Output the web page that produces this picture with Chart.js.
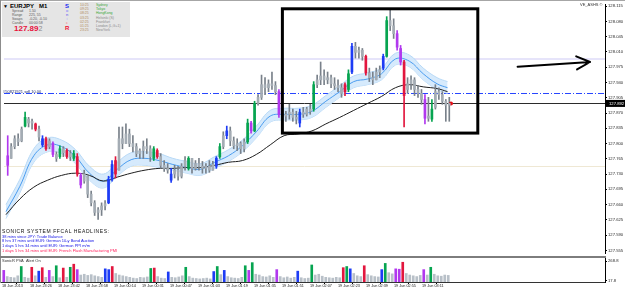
<!DOCTYPE html>
<html>
<head>
<meta charset="utf-8">
<title>EURJPY M1</title>
<script src="https://cdn.jsdelivr.net/npm/chart.js@4.4.1/dist/chart.umd.min.js"></script>
<style>
  html, body { margin: 0; padding: 0; background: #fff; }
  body { position: relative; width: 625px; height: 290px; overflow: hidden;
         font-family: "Liberation Sans", Arial, sans-serif; }
  .pane { position: absolute; left: 0; width: 625px; }
  .txt { position: absolute; white-space: nowrap; line-height: 1; }
  #frameTop { position: absolute; left: 0; top: 0; width: 625px; height: 1px; background: #a6a6a6; }
  #frameLeft { position: absolute; left: 0; top: 0; width: 1px; height: 283px; background: #8c8c8c; }
  #splitter { position: absolute; left: 0; top: 256px; width: 606px; height: 2px; background: #7d7d7d; }
  #infoBox { position: absolute; left: 2px; top: 2px; width: 128px; height: 35px; background: #e5e5e5; }
  .stat { font-size: 3.5px; color: #5a5a5a; }
  .hour { font-size: 3.5px; color: #b08a5a; }
  .sess { font-size: 3.5px; color: #8a8a8a; }
  .news { font-size: 4px; color: #1414e6; }
</style>
</head>
<body>
<div class="pane" style="top:0;height:257px"><canvas id="priceChart"></canvas></div>
<div class="pane" style="top:257px;height:33px"><canvas id="pvaChart"></canvas></div>
<div id="frameTop"></div><div id="frameLeft"></div><div id="splitter"></div>

<div id="infoBox"></div>
<div class="txt" style="left:3px;top:4px;font-size:5px;color:#000">▼</div>
<div class="txt" style="left:10px;top:3px;font-size:6px;font-weight:bold;color:#000">EURJPY</div>
<div class="txt" style="left:39px;top:3px;font-size:6px;font-weight:bold;color:#000">M1</div>
<div class="txt stat" style="left:12px;top:10px">Spread</div>
<div class="txt stat" style="left:29px;top:10px">1.50</div>
<div class="txt stat" style="left:12px;top:14px">Range</div>
<div class="txt stat" style="left:29px;top:14px">225, 55</div>
<div class="txt stat" style="left:12px;top:18px">Swaps</div>
<div class="txt stat" style="left:29px;top:18px">-0.20, -0.10</div>
<div class="txt stat" style="left:12px;top:22px">Candle</div>
<div class="txt stat" style="left:29px;top:22px">00:00:58</div>
<div class="txt" style="left:14px;top:25px;font-size:8px;font-weight:bold;color:#e8103c">127.89<span style="color:#8a8a8a;font-weight:normal;font-size:7px">2</span></div>
<div class="txt" style="left:65px;top:3px;font-size:6px;font-weight:bold;color:#1a2cf0">S</div>
<div class="txt" style="left:66px;top:9px;font-size:4px;color:#6a6aff">o</div>
<div class="txt" style="left:66px;top:13px;font-size:4px;color:#4a4af0">n</div>
<div class="txt" style="left:66.5px;top:17px;font-size:4px;color:#a8a8ff">i</div>
<div class="txt" style="left:66px;top:21px;font-size:4px;color:#ff7070">c</div>
<div class="txt" style="left:65px;top:24.5px;font-size:6px;font-weight:bold;color:#f01030">R</div>
<div class="txt hour" style="left:80px;top:4px">10:25</div>
<div class="txt hour" style="left:80px;top:8px">09:25</div>
<div class="txt hour" style="left:80px;top:12px">08:25</div>
<div class="txt hour" style="left:80px;top:16.5px">03:25</div>
<div class="txt hour" style="left:80px;top:20.5px">02:25</div>
<div class="txt hour" style="left:80px;top:24.5px">01:25</div>
<div class="txt hour" style="left:80px;top:28.5px">23:25</div>
<div class="txt sess" style="left:96px;top:4px;color:#3aa63a">Sydney</div>
<div class="txt sess" style="left:96px;top:8px;color:#3aa63a">Tokyo</div>
<div class="txt sess" style="left:96px;top:12px;color:#3aa63a">HongKong</div>
<div class="txt sess" style="left:96px;top:16.5px">Helsinki (S)</div>
<div class="txt sess" style="left:96px;top:20.5px">Frankfurt</div>
<div class="txt sess" style="left:96px;top:24.5px">London (L,G+1)</div>
<div class="txt sess" style="left:96px;top:28.5px">NewYork</div>

<div class="txt" style="left:580px;top:3px;font-size:4px;color:#333">VE_ASHS ©</div>
<div class="txt" style="left:3px;top:89.5px;font-size:4px;color:#1c2a6a">#50821921 sell 10.00</div>

<div class="txt" style="left:2px;top:229px;font-size:5px;letter-spacing:0.6px;color:#111">SONICR SYSTEM FFCAL HEADLINES:</div>
<div class="txt news" style="left:2px;top:234.5px">38 mins since JPY: Trade Balance</div>
<div class="txt news" style="left:2px;top:239px">8 hrs 37 mins until EUR: German 10-y Bond Auction</div>
<div class="txt news" style="left:2px;top:243.5px">1 days 5 hrs 34 mins until EUR: German PPI m/m</div>
<div class="txt news" style="left:2px;top:248.5px;color:#ff1f5a">1 days 5 hrs 34 mins until EUR: French Flash Manufacturing PMI</div>
<div class="txt" style="left:2px;top:259px;font-size:4px;color:#333">SonicR PVA&nbsp;&nbsp;Alert On</div>

<script>
// EURJPY M1, 18/19 Jun 2013 - one bar every 2 minutes
const opens = [
  127.772, 127.766, 127.793, 127.811, 127.806, 127.840, 127.856, 127.847, 127.845, 127.833, 127.797, 127.811, 127.793, 127.800, 127.775, 127.770,
  127.788, 127.784, 127.770, 127.766, 127.770, 127.727, 127.714, 127.725, 127.684, 127.664, 127.642, 127.648, 127.657, 127.664, 127.718, 127.761,
  127.739, 127.811, 127.800, 127.822, 127.800, 127.793, 127.777, 127.784, 127.793, 127.788, 127.766, 127.784, 127.770, 127.750, 127.743, 127.716,
  127.730, 127.739, 127.725, 127.748, 127.743, 127.766, 127.743, 127.754, 127.748, 127.743, 127.748, 127.739, 127.748, 127.770, 127.793, 127.818,
  127.829, 127.806, 127.795, 127.800, 127.788, 127.804, 127.847, 127.829, 127.892, 127.906, 127.935, 127.928, 127.937, 127.933, 127.919, 127.867,
  127.863, 127.867, 127.872, 127.860, 127.847, 127.872, 127.867, 127.879, 127.879, 127.935, 127.946, 127.955, 127.946, 127.951, 127.937, 127.933,
  127.928, 127.935, 127.924, 127.964, 128.023, 128.009, 128.014, 128.000, 127.962, 127.951, 127.946, 127.964, 127.973, 128.000, 128.082, 128.070,
  128.052, 128.018, 127.987, 127.924, 127.937, 127.946, 127.924, 127.915, 127.901, 127.858, 127.856, 127.883, 127.919, 127.912, 127.897, 127.888
];
const highs = [
  127.818, 127.800, 127.818, 127.822, 127.838, 127.872, 127.860, 127.856, 127.847, 127.840, 127.818, 127.815, 127.811, 127.804, 127.781, 127.795,
  127.793, 127.788, 127.784, 127.784, 127.777, 127.732, 127.739, 127.725, 127.691, 127.669, 127.653, 127.664, 127.669, 127.725, 127.761, 127.770,
  127.838, 127.838, 127.845, 127.833, 127.818, 127.800, 127.788, 127.806, 127.811, 127.795, 127.793, 127.788, 127.777, 127.761, 127.754, 127.743,
  127.750, 127.748, 127.754, 127.770, 127.770, 127.766, 127.761, 127.766, 127.759, 127.754, 127.761, 127.759, 127.770, 127.800, 127.827, 127.840,
  127.838, 127.815, 127.811, 127.804, 127.811, 127.856, 127.851, 127.897, 127.912, 127.957, 127.951, 127.946, 127.964, 127.942, 127.924, 127.879,
  127.874, 127.890, 127.879, 127.874, 127.879, 127.883, 127.883, 127.890, 127.942, 127.957, 127.987, 127.969, 127.964, 127.957, 127.951, 127.946,
  127.937, 127.939, 127.969, 128.030, 128.032, 128.021, 128.018, 128.003, 127.973, 127.964, 127.973, 127.978, 128.005, 128.091, 128.109, 128.086,
  128.059, 128.025, 127.991, 127.951, 127.955, 127.951, 127.933, 127.924, 127.912, 127.906, 127.901, 127.935, 127.928, 127.919, 127.901, 127.906
];
const lows = [
  127.727, 127.766, 127.788, 127.795, 127.804, 127.838, 127.838, 127.833, 127.829, 127.806, 127.793, 127.784, 127.788, 127.770, 127.759, 127.766,
  127.770, 127.766, 127.761, 127.761, 127.725, 127.698, 127.709, 127.676, 127.657, 127.635, 127.626, 127.635, 127.648, 127.662, 127.714, 127.721,
  127.739, 127.788, 127.800, 127.793, 127.781, 127.770, 127.766, 127.766, 127.777, 127.759, 127.761, 127.766, 127.743, 127.736, 127.732, 127.711,
  127.721, 127.716, 127.721, 127.739, 127.739, 127.732, 127.739, 127.739, 127.732, 127.732, 127.734, 127.739, 127.743, 127.766, 127.788, 127.811,
  127.795, 127.788, 127.784, 127.777, 127.781, 127.800, 127.824, 127.827, 127.888, 127.901, 127.912, 127.919, 127.924, 127.912, 127.860, 127.851,
  127.851, 127.856, 127.851, 127.845, 127.838, 127.860, 127.863, 127.867, 127.874, 127.928, 127.935, 127.935, 127.937, 127.928, 127.924, 127.919,
  127.906, 127.910, 127.919, 127.960, 127.996, 127.996, 127.991, 127.957, 127.942, 127.935, 127.946, 127.951, 127.969, 127.998, 128.059, 128.041,
  128.014, 127.980, 127.838, 127.915, 127.924, 127.910, 127.906, 127.890, 127.845, 127.851, 127.851, 127.879, 127.901, 127.890, 127.851, 127.851
];
const closes = [
  127.750, 127.793, 127.811, 127.804, 127.833, 127.860, 127.847, 127.851, 127.833, 127.815, 127.811, 127.788, 127.806, 127.775, 127.766, 127.788,
  127.779, 127.770, 127.777, 127.777, 127.730, 127.705, 127.730, 127.684, 127.664, 127.642, 127.648, 127.657, 127.662, 127.718, 127.752, 127.730,
  127.811, 127.800, 127.822, 127.800, 127.793, 127.777, 127.784, 127.793, 127.788, 127.770, 127.788, 127.770, 127.750, 127.743, 127.739, 127.730,
  127.739, 127.725, 127.748, 127.761, 127.766, 127.743, 127.754, 127.748, 127.743, 127.748, 127.739, 127.752, 127.766, 127.793, 127.818, 127.829,
  127.806, 127.795, 127.800, 127.788, 127.804, 127.847, 127.829, 127.892, 127.906, 127.935, 127.928, 127.937, 127.933, 127.919, 127.867, 127.863,
  127.867, 127.872, 127.860, 127.856, 127.872, 127.867, 127.879, 127.874, 127.935, 127.946, 127.955, 127.946, 127.951, 127.937, 127.933, 127.928,
  127.915, 127.919, 127.960, 128.023, 128.009, 128.014, 128.000, 127.962, 127.951, 127.946, 127.964, 127.969, 128.000, 128.082, 128.070, 128.052,
  128.021, 127.987, 127.910, 127.937, 127.946, 127.924, 127.915, 127.901, 127.858, 127.863, 127.879, 127.919, 127.912, 127.897, 127.888, 127.892
];
// PVA class of each bar: g normal, G climax up, R climax down, B rising up, P rising down
const pvaClass = [
  'P','g','g','g','g','G','g','g','R','g','B','R','g','P','g','G',
  'g','R','g','G','R','P','g','g','g','g','g','g','g','B','B','R',
  'g','g','g','g','g','g','g','g','g','g','G','R','g','g','g','B',
  'g','g','g','g','G','g','g','g','g','g','g','g','B','G','g','B',
  'g','g','g','g','g','G','P','G','g','g','g','g','g','g','P','g',
  'g','g','g','g','B','g','g','g','G','g','g','g','g','g','g','g',
  'g','R','G','B','g','g','g','R','g','g','g','g','B','G','g','g',
  'P','P','R','g','g','g','g','g','P','g','G','g','g','g','g','g'
];
const volumes = [
  150, 70, 60, 55, 80, 200, 60, 50, 190, 80, 140, 185, 60, 150, 70, 210,
  55, 180, 60, 190, 230, 160, 90, 100, 85, 95, 80, 70, 60, 170, 160, 200,
  110, 90, 80, 70, 60, 50, 45, 60, 55, 65, 175, 180, 70, 50, 45, 130,
  60, 55, 65, 80, 190, 70, 50, 45, 40, 45, 50, 40, 135, 200, 95, 150,
  70, 55, 50, 45, 60, 210, 150, 250, 100, 90, 70, 65, 80, 60, 160, 70,
  55, 65, 50, 60, 140, 55, 45, 50, 220, 90, 100, 75, 60, 55, 50, 60,
  55, 185, 200, 170, 110, 80, 70, 210, 95, 80, 70, 65, 160, 240, 120, 105,
  170, 165, 255, 110, 90, 80, 70, 85, 160, 90, 190, 100, 80, 75, 90, 85
];

// moving averages, sampled every 8 minutes
const maMinutes = [0, 8, 16, 24, 32, 40, 48, 56, 64, 72, 80, 88, 96, 104, 112, 120, 128, 136, 144, 152, 160, 168, 176, 184, 192, 200, 208, 216, 224, 232, 240, 248, 254];
const fastMA = [127.644, 127.702, 127.772, 127.797, 127.793, 127.770, 127.732, 127.714, 127.741, 127.763, 127.766, 127.761, 127.752, 127.745, 127.741, 127.757, 127.772, 127.795, 127.827, 127.863, 127.867, 127.867, 127.874, 127.897, 127.919, 127.942, 127.948, 127.960, 127.994, 127.989, 127.960, 127.937, 127.928];
const bandHigh = [127.660, 127.718, 127.788, 127.813, 127.808, 127.786, 127.748, 127.730, 127.757, 127.779, 127.781, 127.777, 127.766, 127.759, 127.754, 127.770, 127.786, 127.808, 127.840, 127.876, 127.881, 127.881, 127.888, 127.910, 127.933, 127.955, 127.962, 127.973, 128.007, 128.003, 127.973, 127.951, 127.942];
const bandLow = [127.628, 127.687, 127.757, 127.781, 127.777, 127.754, 127.716, 127.698, 127.725, 127.748, 127.750, 127.745, 127.739, 127.732, 127.727, 127.743, 127.759, 127.781, 127.813, 127.849, 127.854, 127.854, 127.860, 127.883, 127.906, 127.928, 127.935, 127.946, 127.980, 127.976, 127.946, 127.924, 127.915];
const slowMA = [127.637, 127.673, 127.700, 127.716, 127.727, 127.732, 127.727, 127.714, 127.723, 127.732, 127.739, 127.743, 127.743, 127.745, 127.745, 127.750, 127.757, 127.761, 127.775, 127.797, 127.818, 127.822, 127.829, 127.845, 127.860, 127.876, 127.892, 127.908, 127.928, 127.935, 127.930, 127.926, 127.919];

const timeLabels = ['18 Jun 2013', '18 Jun 23:26', '18 Jun 23:42', '18 Jun 23:58', '19 Jun 00:14', '19 Jun 00:31', '19 Jun 00:47', '19 Jun 01:03', '19 Jun 01:19', '19 Jun 01:35', '19 Jun 01:51', '19 Jun 02:07', '19 Jun 02:23', '19 Jun 02:39', '19 Jun 02:55', '19 Jun 03:11'];
const timeLabelMinutes = [0, 16, 32, 48, 64, 80, 96, 112, 128, 144, 160, 176, 192, 208, 224, 240];
const priceTicks = [127.555, 127.590, 127.625, 127.660, 127.695, 127.730, 127.765, 127.800, 127.835, 127.870, 127.905, 127.940, 127.975, 128.010, 128.045, 128.080, 128.115];
const pvaTicks = [17.8, 268.8];

// chart objects
const bidPrice = 127.892;
const lastTickMinute = 256;
const sellOrderPrice = 127.915;
const upperLevel = 127.995;
const lowerLevel = 127.748;
const boxMinutes = [159, 271.4];
const boxPrices = [128.109, 127.824];
const arrowMinutes = [294.3, 336];
const arrowPrices = [127.976, 127.987];

const FONT = '"Liberation Sans", Arial, sans-serif';
const X_MIN = -1.143, X_MAX = 344.57;      // minutes shown across the 605 px plot
const PRICE_MIN = 127.549, PRICE_MAX = 128.120;

const pvaColor = { g: '#a4acb4', G: '#06a450', R: '#e2163e', B: '#1d3cf5', P: '#b138ee' };
const wickColor = k => (k === 'g' ? '#79818a' : pvaColor[k]);
const volColor = k => (k === 'g' ? '#b8c0c8' : pvaColor[k]);

const candleMinutes = opens.map((_, i) => 1 + 2 * i);
const pts = (xs, ys) => xs.map((m, i) => ({ x: m, y: ys[i] }));

function rightAxisFit(scale) {
  scale.width = 20;
  scale.paddingTop = 0;
  scale.paddingBottom = 0;
}

const mt4Objects = {
  id: 'mt4Objects',
  beforeDatasetsDraw(chart) {
    const { ctx, chartArea: a, scales: { y } } = chart;
    const hline = (price, color, width, dash) => {
      const py = Math.round(y.getPixelForValue(price)) + (width % 2 ? 0.5 : 0);
      ctx.save();
      ctx.strokeStyle = color;
      ctx.lineWidth = width;
      ctx.setLineDash(dash || []);
      ctx.beginPath();
      ctx.moveTo(a.left, py);
      ctx.lineTo(a.right, py);
      ctx.stroke();
      ctx.restore();
    };
    hline(upperLevel, '#e6e4fa', 2);
    hline(lowerLevel, '#efe8d4', 1);
    hline(sellOrderPrice, '#2846ff', 1, [6, 2, 1, 2]);
    hline(bidPrice, '#2b2b2b', 1);
  },
  afterDatasetsDraw(chart) {
    const { ctx, scales: { x, y } } = chart;
    ctx.save();
    ctx.strokeStyle = '#000';
    // box round the last hour
    const bx0 = x.getPixelForValue(boxMinutes[0]), bx1 = x.getPixelForValue(boxMinutes[1]);
    const by0 = y.getPixelForValue(boxPrices[0]), by1 = y.getPixelForValue(boxPrices[1]);
    ctx.lineWidth = 3;
    ctx.strokeRect(bx0, by0, bx1 - bx0, by1 - by0);
    // arrow
    const ax0 = x.getPixelForValue(arrowMinutes[0]), ay0 = y.getPixelForValue(arrowPrices[0]);
    const ax1 = x.getPixelForValue(arrowMinutes[1]), ay1 = y.getPixelForValue(arrowPrices[1]);
    const ang = Math.atan2(ay1 - ay0, ax1 - ax0);
    ctx.lineWidth = 2;
    ctx.lineCap = 'round';
    ctx.beginPath();
    ctx.moveTo(ax0, ay0);
    ctx.lineTo(ax1, ay1);
    for (const s of [-1, 1]) {
      ctx.moveTo(ax1, ay1);
      ctx.lineTo(ax1 - 15 * Math.cos(ang + s * 0.45), ay1 - 15 * Math.sin(ang + s * 0.45));
    }
    ctx.stroke();
    ctx.restore();
  },
  afterDraw(chart) {
    const { ctx, chartArea: a, scales: { y } } = chart;
    const py = y.getPixelForValue(bidPrice);
    ctx.save();
    ctx.fillStyle = '#000';
    ctx.fillRect(a.right + 1, py - 3.5, chart.width - a.right - 1, 7);
    ctx.fillStyle = '#fff';
    ctx.font = '4.2px ' + FONT;
    ctx.textBaseline = 'middle';
    ctx.fillText(bidPrice.toFixed(3), a.right + 4, py + 0.3);
    ctx.restore();
  }
};

new Chart(document.getElementById('priceChart'), {
  type: 'bar',
  data: {
    datasets: [
      {
        label: 'body',
        data: candleMinutes.map((m, i) => ({ x: m, y: [opens[i], closes[i]] })),
        backgroundColor: pvaClass.map(k => pvaColor[k]),
        barThickness: 2, minBarLength: 1, grouped: false, order: 0
      },
      {
        label: 'wick',
        data: candleMinutes.map((m, i) => ({ x: m, y: [lows[i], highs[i]] })),
        backgroundColor: pvaClass.map(wickColor),
        barThickness: 1, minBarLength: 1, grouped: false, order: 1
      },
      {
        type: 'line', label: 'last',
        data: [{ x: lastTickMinute, y: bidPrice }],
        showLine: false, pointRadius: 2, pointBorderWidth: 0, pointBackgroundColor: '#e3101a', order: 0
      },
      {
        type: 'line', label: 'slow MA', data: pts(maMinutes, slowMA),
        borderColor: '#1e1e1e', borderWidth: 1, pointRadius: 0, tension: 0.4, order: 2
      },
      {
        type: 'line', label: 'fast MA', data: pts(maMinutes, fastMA),
        borderColor: '#4a9cef', borderWidth: 1, pointRadius: 0, tension: 0.4, order: 3
      },
      {
        type: 'line', label: 'band high', data: pts(maMinutes, bandHigh),
        borderColor: '#b8d9f6', borderWidth: 1, pointRadius: 0, tension: 0.4,
        fill: '+1', backgroundColor: 'rgba(210,232,252,0.9)', order: 4
      },
      {
        type: 'line', label: 'band low', data: pts(maMinutes, bandLow),
        borderColor: '#b8d9f6', borderWidth: 1, pointRadius: 0, tension: 0.4, fill: false, order: 5
      }
    ]
  },
  options: {
    responsive: true, maintainAspectRatio: false, animation: false, devicePixelRatio: 1,
    layout: { padding: { top: 3, bottom: 1, left: 0, right: 0 } },
    plugins: { legend: { display: false }, tooltip: { enabled: false } },
    scales: {
      x: { type: 'linear', min: X_MIN, max: X_MAX, offset: false, display: false },
      y: {
        position: 'right', min: PRICE_MIN, max: PRICE_MAX,
        afterBuildTicks: s => { s.ticks = priceTicks.map(v => ({ value: v })); },
        afterFit: rightAxisFit,
        ticks: { font: { family: FONT, size: 4.2 }, color: '#2a2a2a', padding: 1, autoSkip: false, callback: v => v.toFixed(3) },
        grid: { drawOnChartArea: false, drawTicks: true, tickLength: 2, color: '#000' },
        border: { display: true, color: '#000', width: 1 }
      }
    }
  },
  plugins: [mt4Objects]
});

new Chart(document.getElementById('pvaChart'), {
  type: 'bar',
  data: {
    datasets: [{
      label: 'SonicR PVA',
      data: candleMinutes.map((m, i) => ({ x: m, y: volumes[i] })),
      backgroundColor: pvaClass.map(volColor),
      barThickness: 2, grouped: false
    }]
  },
  options: {
    responsive: true, maintainAspectRatio: false, animation: false, devicePixelRatio: 1,
    layout: { padding: { top: 1, bottom: 0, left: 0, right: 0 } },
    plugins: { legend: { display: false }, tooltip: { enabled: false } },
    scales: {
      x: {
        type: 'linear', min: X_MIN, max: X_MAX, offset: false,
        afterBuildTicks: s => { s.ticks = timeLabelMinutes.map(v => ({ value: v })); },
        afterFit: s => { s.height = 8; },
        ticks: { font: { family: FONT, size: 3.8 }, color: '#222', align: 'start', padding: 0,
                 maxRotation: 0, minRotation: 0, autoSkip: false, callback: (v, i) => timeLabels[i] },
        grid: { drawOnChartArea: false, drawTicks: true, tickLength: 2, color: '#000' },
        border: { display: true, color: '#333', width: 1 }
      },
      y: {
        position: 'right', min: 0, max: 310,
        afterBuildTicks: s => { s.ticks = pvaTicks.map(v => ({ value: v })); },
        afterFit: rightAxisFit,
        ticks: { font: { family: FONT, size: 4.2 }, color: '#2a2a2a', padding: 1, autoSkip: false, callback: v => v.toFixed(1) },
        grid: { drawOnChartArea: false, drawTicks: true, tickLength: 2, color: '#000' },
        border: { display: true, color: '#000', width: 1 }
      }
    }
  }
});
</script>
</body>
</html>
